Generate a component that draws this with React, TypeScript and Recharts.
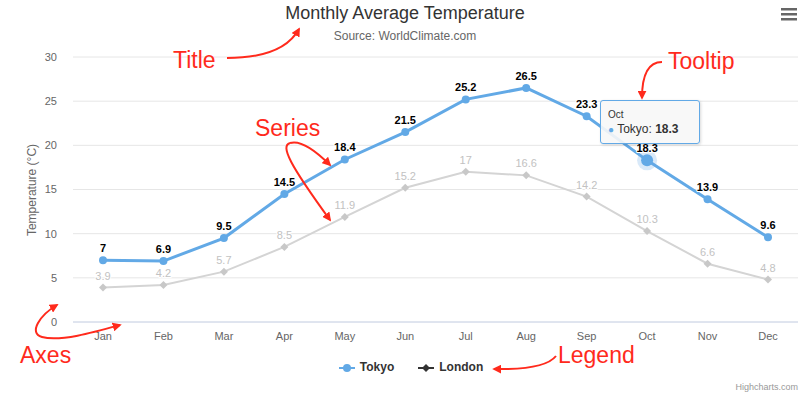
import React from "react";
import {
  CartesianGrid,
  LabelList,
  Line,
  LineChart,
  Tooltip,
  XAxis,
  YAxis,
} from "recharts";

const months = ["Jan", "Feb", "Mar", "Apr", "May", "Jun", "Jul", "Aug", "Sep", "Oct", "Nov", "Dec"];
const tokyo = [7, 6.9, 9.5, 14.5, 18.4, 21.5, 25.2, 26.5, 23.3, 18.3, 13.9, 9.6];
const london = [3.9, 4.2, 5.7, 8.5, 11.9, 15.2, 17, 16.6, 14.2, 10.3, 6.6, 4.8];
const yTicks = [0, 5, 10, 15, 20, 25, 30];

const data = months.map((m, i) => ({ month: m, tokyo: tokyo[i], london: london[i] }));

const FONT = '"Liberation Sans", Arial, sans-serif';
const blue = "#62a9e6";
const red = "#ff2a1c";

function TokyoDot(props: any) {
  const { cx, cy } = props;
  if (cx == null || cy == null) return null;
  return <circle cx={cx} cy={cy} r={4} fill={blue} />;
}

function LondonDot(props: any) {
  const { cx, cy } = props;
  if (cx == null || cy == null) return null;
  const r = 4;
  return (
    <path
      d={`M${cx} ${cy - r} L${cx + r} ${cy} L${cx} ${cy + r} L${cx - r} ${cy} Z`}
      fill="#c8c8c8"
    />
  );
}

function ActiveTokyo(props: any) {
  const { cx, cy } = props;
  if (cx == null || cy == null) return null;
  return (
    <g>
      <circle cx={cx} cy={cy} r={10} fill={blue} fillOpacity={0.25} />
      <circle cx={cx} cy={cy} r={6} fill={blue} />
    </g>
  );
}

const makeLabel = (color: string, weight: number) => (props: any) => {
  const { x, y, value } = props;
  return (
    <text
      x={x}
      y={y - 8}
      textAnchor="middle"
      fontSize={11}
      fontWeight={weight}
      fontFamily={FONT}
      fill={color}
      stroke="#fff"
      strokeWidth={2}
      paintOrder="stroke"
      strokeLinejoin="round"
    >
      {value}
    </text>
  );
};

function TipBox({ active, payload, label }: any) {
  if (!active || !payload || !payload.length) return null;
  const p = payload.find((q: any) => q.dataKey === "tokyo");
  if (!p) return null;
  return (
    <div
      style={{
        background: "rgba(247,247,247,0.9)",
        border: `1px solid ${blue}`,
        borderRadius: 3,
        padding: "6px 7px",
        width: 84,
        fontFamily: FONT,
        color: "#333",
        boxShadow: "1px 1px 3px rgba(0,0,0,0.15)",
        lineHeight: "15px",
      }}
    >
      <div style={{ fontSize: 10 }}>{label}</div>
      <div style={{ fontSize: 12, whiteSpace: "nowrap" }}>
        <span style={{ color: blue, fontSize: 10 }}>●</span> Tokyo: <b>{p.value}</b>
      </div>
    </div>
  );
}

function LegendIcon({ color, shape }: { color: string; shape: "circle" | "diamond" }) {
  return (
    <svg width={16} height={12} style={{ verticalAlign: "middle", marginRight: 5 }}>
      <line x1={0} x2={16} y1={6} y2={6} stroke={color} strokeWidth={2} />
      {shape === "circle" ? (
        <circle cx={8} cy={6} r={4} fill={color} />
      ) : (
        <path d="M8 2 L12 6 L8 10 L4 6 Z" fill={color} />
      )}
    </svg>
  );
}

export default function App() {
  return (
    <div style={{ position: "absolute", left: 0, top: 0, width: 810, height: 399, background: "#fff", fontFamily: FONT }}>
      <div style={{ position: "absolute", top: 3, width: 810, textAlign: "center", fontSize: 18, color: "#333" }}>
        Monthly Average Temperature
      </div>
      <div style={{ position: "absolute", top: 29, width: 810, textAlign: "center", fontSize: 12, color: "#666" }}>
        Source: WorldClimate.com
      </div>

      <LineChart width={810} height={399} data={data} margin={{ top: 57, right: 12, bottom: 47, left: 13 }}>
        <CartesianGrid stroke="#e6e6e6" vertical={false} />
        <XAxis
          dataKey="month"
          padding={{ left: 30, right: 30 }}
          height={30}
          tickLine={false}
          tickSize={0}
          tickMargin={10}
          axisLine={{ stroke: "#ccd6eb" }}
          tick={{ fill: "#666", fontSize: 11, fontFamily: FONT }}
          interval={0}
        />
        <YAxis
          width={60}
          domain={[0, 30]}
          ticks={yTicks}
          tickLine={false}
          tickSize={0}
          tickMargin={16}
          axisLine={false}
          tick={{ fill: "#666", fontSize: 11, fontFamily: FONT }}
        />
        <Tooltip
          defaultIndex={9}
          cursor={false}
          position={{ x: 600, y: 100 }}
          isAnimationActive={false}
          content={<TipBox />}
          wrapperStyle={{ outline: "none" }}
        />
        <Line
          dataKey="london"
          stroke="#d4d4d4"
          strokeWidth={2}
          dot={<LondonDot />}
          activeDot={false}
          isAnimationActive={false}
        >
          <LabelList dataKey="london" content={makeLabel("#c2c2c2", 400)} />
        </Line>
        <Line
          dataKey="tokyo"
          stroke={blue}
          strokeWidth={3}
          dot={<TokyoDot />}
          activeDot={<ActiveTokyo />}
          isAnimationActive={false}
        >
          <LabelList dataKey="tokyo" content={makeLabel("#000", 700)} />
        </Line>
      </LineChart>

      <div
        style={{
          position: "absolute",
          top: 360,
          left: 6,
          width: 810,
          textAlign: "center",
          fontSize: 12,
          fontWeight: 700,
          color: "#333",
        }}
      >
        <span style={{ marginRight: 24 }}>
          <LegendIcon color={blue} shape="circle" />
          Tokyo
        </span>
        <span>
          <LegendIcon color="#333" shape="diamond" />
          London
        </span>
      </div>

      <div style={{ position: "absolute", right: 12, top: 382, fontSize: 9, color: "#999" }}>Highcharts.com</div>

      <svg width={810} height={399} style={{ position: "absolute", left: 0, top: 0, pointerEvents: "none" }}>
        <defs>
          <marker id="ah" viewBox="0 0 10 10" refX={8} refY={5} markerWidth={9} markerHeight={9} markerUnits="userSpaceOnUse" orient="auto-start-reverse">
            <path d="M0 0 L10 5 L0 10 Z" fill={red} />
          </marker>
        </defs>
        <g fill="#666">
          <rect x={781} y={8} width={16} height={2.5} />
          <rect x={781} y={13} width={16} height={2.5} />
          <rect x={781} y={18} width={16} height={2.5} />
        </g>
        <text x={33} y={190} transform="rotate(-90 33 190)" textAnchor="middle" dominantBaseline="middle" fontSize={12} fill="#666" fontFamily={FONT}>
          Temperature (°C)
        </text>
        <g fill="none" stroke={red} strokeWidth={2}>
          <path d="M227 58 Q283 58 299 29" markerEnd="url(#ah)" />
          <path d="M662 62 Q642 62 642 98" markerEnd="url(#ah)" />
          <path d="M290 143 C300 140 315 150 330 165" markerEnd="url(#ah)" />
          <path d="M290 143 C280 146 290 165 330 220" markerEnd="url(#ah)" />
          <path d="M57 305 C40 315 28 333 42 337 C60 342 95 332 120 325" markerStart="url(#ah)" markerEnd="url(#ah)" />
          <path d="M556 356 Q545 370 494 369" markerEnd="url(#ah)" />
        </g>
        <g fill={red} fontSize={23} fontFamily={FONT}>
          <text x={173} y={68}>Title</text>
          <text x={668} y={69}>Tooltip</text>
          <text x={255} y={136}>Series</text>
          <text x={20} y={363}>Axes</text>
          <text x={558} y={363}>Legend</text>
        </g>
      </svg>
    </div>
  );
}
